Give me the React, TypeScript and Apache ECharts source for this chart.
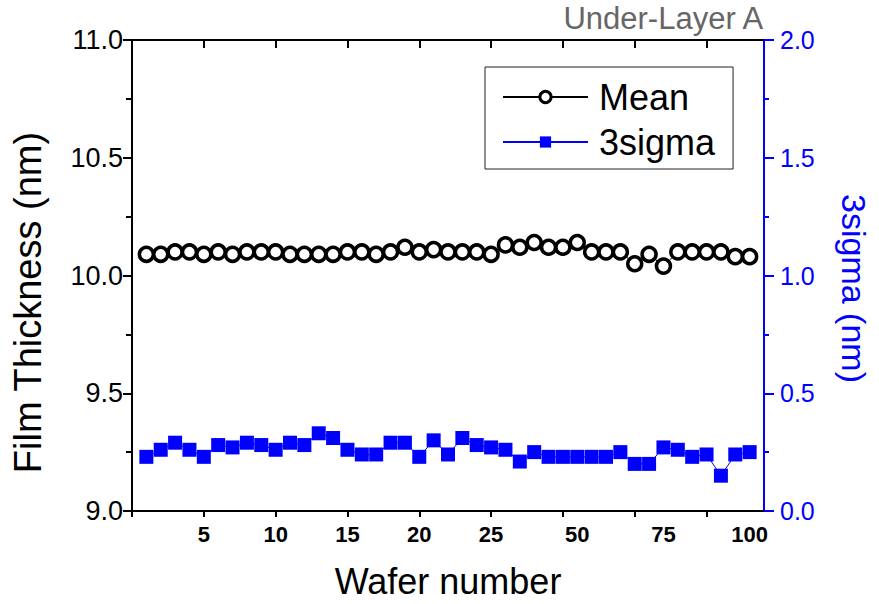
import React, { useEffect, useRef } from "react";
import * as echarts from "echarts";

// Mean film thickness per wafer slot (nm)
const meanValues = [
  10.09, 10.09, 10.10, 10.10, 10.09, 10.10, 10.09, 10.10, 10.10, 10.10,
  10.09, 10.09, 10.09, 10.09, 10.10, 10.10, 10.09, 10.10, 10.12, 10.10,
  10.11, 10.10, 10.10, 10.10, 10.09, 10.13, 10.12, 10.14, 10.12, 10.12,
  10.14, 10.10, 10.10, 10.10, 10.05, 10.09, 10.04, 10.10, 10.10, 10.10,
  10.10, 10.08, 10.08,
];

// 3sigma per wafer slot (nm)
const sigmaValues = [
  0.23, 0.26, 0.29, 0.26, 0.23, 0.28, 0.27, 0.29, 0.28, 0.26,
  0.29, 0.28, 0.33, 0.31, 0.26, 0.24, 0.24, 0.29, 0.29, 0.23,
  0.30, 0.24, 0.31, 0.28, 0.27, 0.26, 0.21, 0.25, 0.23, 0.23,
  0.23, 0.23, 0.23, 0.25, 0.20, 0.20, 0.27, 0.26, 0.23, 0.24,
  0.15, 0.24, 0.25,
];

const xTickPositions = [0, 5, 10, 15, 20, 25, 30, 35, 40];
const xLabelPositions = [5, 10, 15, 20, 25, 31, 37, 43];
const xLabelTexts = ["5", "10", "15", "20", "25", "50", "75", "100"];

const FONT = "'Liberation Sans', Arial, sans-serif";
const BLUE = "#0000ff";

export default function App() {
  const ref = useRef<HTMLDivElement>(null);

  useEffect(() => {
    if (!ref.current) return;
    const chart = echarts.init(ref.current, undefined, { renderer: "svg" });
    const ringStyle = { color: "#fff", borderColor: "#000", borderWidth: 3.5 };
    const meanData = meanValues.map((v, i) => [i + 1, v]);
    const sigmaData = sigmaValues.map((v, i) => [i + 1, v]);

    chart.setOption({
      animation: false,
      backgroundColor: "#fff",
      textStyle: { fontFamily: FONT },
      grid: { left: 132, right: 109, top: 40, bottom: 92, containLabel: false },
      legend: {
        orient: "vertical",
        left: 485,
        top: 67,
        padding: [10, 18, 7, 17],
        itemGap: 5,
        itemWidth: 85,
        itemHeight: 14,
        borderColor: "#222",
        borderWidth: 1,
        backgroundColor: "#fff",
        textStyle: {
          fontSize: 36,
          fontFamily: FONT,
          color: "#000",
          lineHeight: 40,
          padding: [0, 0, 0, 6],
        },
        data: [
          { name: "Mean", itemStyle: { color: "#fff", borderColor: "#000", borderWidth: 3 } },
          { name: "3sigma" },
        ],
      },
      graphic: [
        {
          type: "text",
          right: 114,
          top: 3,
          style: { text: "Under-Layer A", fontSize: 31, fontFamily: FONT, fill: "#666" },
        },
      ],
      xAxis: [
        {
          type: "value",
          position: "bottom",
          min: 0,
          max: 44,
          interval: 5,
          name: "Wafer number",
          nameLocation: "middle",
          nameGap: 52,
          nameTextStyle: { fontSize: 36, fontFamily: FONT, color: "#000" },
          axisLine: { show: true, onZero: false, lineStyle: { color: "#000", width: 2 } },
          axisTick: {
            show: true,
            inside: false,
            length: 6,
            customValues: xTickPositions,
            lineStyle: { color: "#000", width: 2 },
          },
          axisLabel: {
            show: true,
            margin: 12,
            fontSize: 22,
            fontWeight: "bold",
            fontFamily: FONT,
            color: "#000",
            customValues: xLabelPositions,
            formatter: (v: number) => {
              const idx = xLabelPositions.indexOf(v);
              return idx >= 0 ? xLabelTexts[idx] : "";
            },
          },
          splitLine: { show: false },
        },
        {
          type: "value",
          position: "top",
          min: 0,
          max: 44,
          interval: 5,
          axisLine: { show: true, onZero: false, lineStyle: { color: "#000", width: 2 } },
          axisTick: {
            show: true,
            inside: true,
            length: 8,
            customValues: xTickPositions,
            lineStyle: { color: "#000", width: 2 },
          },
          axisLabel: { show: false },
          splitLine: { show: false },
        },
      ],
      yAxis: [
        {
          type: "value",
          position: "left",
          min: 9,
          max: 11,
          interval: 0.5,
          name: "Film Thickness (nm)",
          nameLocation: "middle",
          nameRotate: 90,
          nameGap: 85,
          nameTextStyle: { fontSize: 38, fontFamily: FONT, color: "#000", padding: [0, 54, 0, 0] },
          axisLine: { show: true, onZero: false, lineStyle: { color: "#000", width: 2 } },
          axisTick: { show: true, inside: false, length: 9, lineStyle: { color: "#000", width: 2 } },
          minorTick: { show: true, splitNumber: 2, length: 6, lineStyle: { color: "#000", width: 2 } },
          axisLabel: {
            margin: 9,
            fontSize: 27,
            fontFamily: FONT,
            color: "#000",
            formatter: (v: number) => v.toFixed(1),
          },
          splitLine: { show: false },
          minorSplitLine: { show: false },
        },
        {
          type: "value",
          position: "right",
          min: 0,
          max: 2,
          interval: 0.5,
          name: "3sigma (nm)",
          nameLocation: "middle",
          nameRotate: -90,
          nameGap: 73,
          nameTextStyle: { fontSize: 34, fontFamily: FONT, color: BLUE, padding: [0, 0, 0, 26] },
          axisLine: { show: true, onZero: false, lineStyle: { color: BLUE, width: 2 } },
          axisTick: { show: true, inside: false, length: 10, lineStyle: { color: BLUE, width: 2 } },
          minorTick: { show: true, splitNumber: 2, length: 5, lineStyle: { color: BLUE, width: 2 } },
          axisLabel: {
            margin: 16,
            fontSize: 25,
            fontFamily: FONT,
            color: BLUE,
            formatter: (v: number) => v.toFixed(1),
          },
          splitLine: { show: false },
          minorSplitLine: { show: false },
        },
      ],
      series: [
        {
          name: "Mean",
          type: "line",
          xAxisIndex: 0,
          yAxisIndex: 0,
          data: meanData,
          symbol: "circle",
          symbolSize: 14,
          showAllSymbol: true,
          itemStyle: ringStyle,
          lineStyle: { color: "#000", width: 1 },
          z: 3,
        },
        {
          name: "3sigma",
          type: "line",
          xAxisIndex: 0,
          yAxisIndex: 1,
          data: sigmaData,
          symbol: "rect",
          symbolSize: 14,
          showAllSymbol: true,
          itemStyle: { color: BLUE },
          lineStyle: { color: BLUE, width: 1 },
          z: 3,
        },
      ],
    });

    return () => chart.dispose();
  }, []);

  return <div ref={ref} style={{ width: 879, height: 604, position: "absolute", left: 0, top: 0 }} />;
}
